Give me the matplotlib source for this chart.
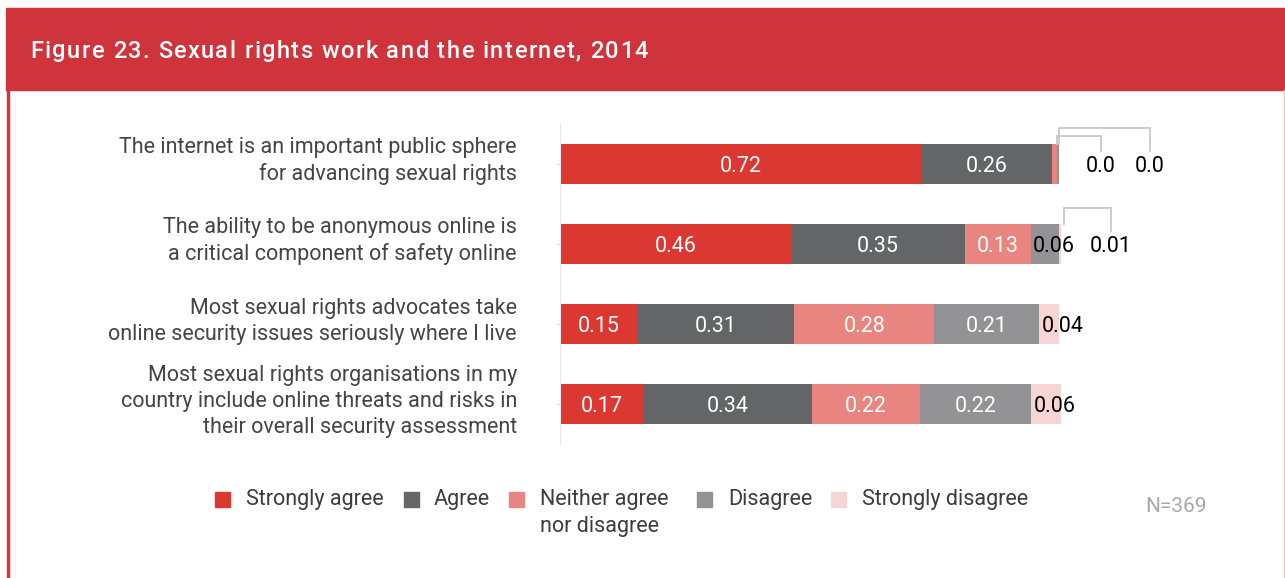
import matplotlib.pyplot as plt
from matplotlib.patches import Rectangle

plt.rcParams['font.family'] = ['Roboto', 'DejaVu Sans']

# Data
title = "Figure 23. Sexual rights work and the internet, 2014"
statements = [
    "The internet is an important public sphere\nfor advancing sexual rights",
    "The ability to be anonymous online is\na critical component of safety online",
    "Most sexual rights advocates take\nonline security issues seriously where I live",
    "Most sexual rights organisations in my\ncountry include online threats and risks in\ntheir overall security assessment",
]
responses = ["Strongly agree", "Agree", "Neither agree\nnor disagree", "Disagree", "Strongly disagree"]
strongly_agree = [0.72, 0.461, 0.154, 0.166]
agree = [0.263, 0.347, 0.314, 0.337]
neither = [0.009, 0.132, 0.279, 0.216]
disagree = [0.004, 0.056, 0.21, 0.222]
strongly_disagree = [0.0, 0.01, 0.04, 0.06]

colors = ['#DB3832', '#646567', '#E98580', '#939396', '#F7D5D5']
W, H = 1285, 578

fig = plt.figure(figsize=(W / 100, H / 100), dpi=100)
renderer = fig.canvas.get_renderer()

# header band and frame
fig.patches.append(Rectangle((6 / W, 1 - 90 / H), 1 - 6 / W, 82 / H, transform=fig.transFigure,
                             color='#CF333B', zorder=0))
fig.add_artist(plt.Line2D([8 / W, 8 / W], [0, 1 - 90 / H], transform=fig.transFigure,
                          color='#D3353D', lw=2.5))
fig.add_artist(plt.Line2D([1283.5 / W, 1283.5 / W], [0, 1 - 90 / H], transform=fig.transFigure,
                          color='#F2B8BC', lw=1))

# title with letter spacing, stretched to span x=30..648 px
tfs = 17
probe = fig.text(0, 0, "", fontsize=tfs, fontweight='medium')
def text_w(s):
    probe.set_text(s + "|")
    w = probe.get_window_extent(renderer).width
    probe.set_text("|")
    return w - probe.get_window_extent(renderer).width

track = (618 - text_w(title)) / (len(title) - 1)
for i, ch in enumerate(title):
    x = 30 + text_w(title[:i]) + i * track
    fig.text(x / W, 1 - 51 / H, ch, color='white', fontsize=tfs, fontweight='medium',
             va='center', ha='left')
probe.remove()

ax = fig.add_axes([560 / W, 1 - 444 / H, 501 / W, 320 / H])
series = [strongly_agree, agree, neither, disagree, strongly_disagree]
rows = range(len(statements))
left = [0.0] * len(statements)
bar_h = 0.49

for s, (vals, col) in enumerate(zip(series, colors)):
    ax.barh(list(rows), vals, left=left, height=bar_h, color=col, lw=0)
    left = [l + v for l, v in zip(left, vals)]

# value labels
fs = 15.5
for r in rows:
    start = 0.0
    tiny = []
    for s, vals in enumerate(series):
        v = vals[r]
        if v <= 0:
            continue
        txt = "0.0" if v < 0.01 else f"{v:.2f}"
        if v >= 0.1:
            ax.text(start + v / 2, r + 0.03, txt, color='white', fontsize=fs, ha='center', va='center')
        elif v >= 0.03:
            ax.text(start + 0.004, r + 0.03, txt, color='black', fontsize=fs, ha='left', va='center',
                    clip_on=False)
        else:
            tiny.append((start + v, txt))
        start += v
    n = len(tiny)
    base = 1.08 if n > 1 else 1.10
    for k, (xe, txt) in enumerate(tiny):
        xl = base + 0.098 * k
        top = r - bar_h / 2 - (0.2 - 0.09 * (n - 1 - k))
        ax.plot([xe, xe, xl, xl], [r - bar_h / 2, top, top, r - 0.16], color='#C8C8C8', lw=1.3,
                clip_on=False, solid_joinstyle='miter')
        ax.text(xl, r + 0.03, txt, color='black', fontsize=fs, ha='center', va='center', clip_on=False)

# category labels
for r, lab in zip(rows, statements):
    ax.text(-0.086, r - 0.035, lab, fontsize=15.5, color='#444444', linespacing=1.3,
            ha='right', va='center', multialignment='right', clip_on=False)

ax.set_xlim(0, 1.0)
ax.set_ylim(3.5, -0.5)
ax.set_xticks([])
ax.set_yticks(list(rows))
ax.set_yticklabels([])
ax.tick_params(axis='y', length=2, color='#DDDDDD')
for side in ['top', 'right', 'bottom']:
    ax.spines[side].set_visible(False)
ax.spines['left'].set_color('#E6E6E6')

# legend
sq_x = [215, 404, 509, 697, 831]
tx_x = [246, 434, 540, 728, 862]
for name, col, sx, tx in zip(responses, colors, sq_x, tx_x):
    fig.patches.append(Rectangle((sx / W, 1 - 507 / H), 15 / W, 15 / H, transform=fig.transFigure,
                                 color=col))
    fig.text(tx / W, 1 - 489 / H, name, fontsize=15.5, color='#3C3C3C', ha='left', va='top',
             linespacing=1.35)
fig.text(1207 / W, 1 - 507 / H, "N=369", fontsize=15, color='#A8A8A8', ha='right', va='center')

fig.savefig('out.png', dpi=100)
